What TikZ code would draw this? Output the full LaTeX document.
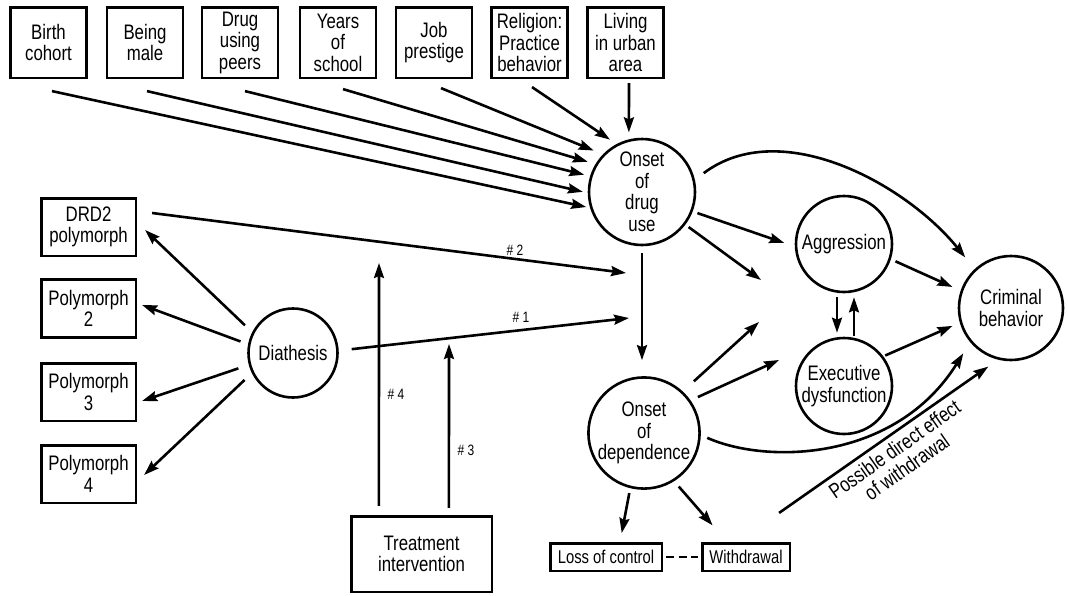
\documentclass[tikz,border=0pt]{standalone}
\usepackage{fontspec}
\setmainfont[FakeStretch=0.8]{Liberation Sans}
\usepackage{tikz}
\usetikzlibrary{arrows.meta,calc}

\begin{document}
\begin{tikzpicture}[x=1pt,y=-1pt,line width=2.6pt,
		font=\fontsize{21}{21.5}\selectfont,
		arr/.style={-{Stealth[length=15pt,width=10pt,inset=2pt]}},
		box/.style={draw,align=center,inner sep=0pt,minimum width=76pt,minimum height=70.6pt},
		pbox/.style={draw,align=center,inner sep=0pt,minimum width=94.6pt,minimum height=57.6pt},
		sbox/.style={draw,align=center,inner sep=0pt,minimum height=27.6pt,font=\fontsize{18.5}{19}\selectfont},
		circ/.style={draw,circle,align=center,inner sep=0pt},
		lab/.style={inner sep=0pt,font=\fontsize{15}{15}\selectfont}]
		\useasboundingbox (0,0) rectangle (1068,595);
		\node[box] (bc) at (48.5,42.5) {Birth\\cohort};
		\node[box] (bm) at (145,42.5) {Being\\male};
		\node[box] (dp) at (240,42.5) {Drug\\using\\peers};
		\node[box] (ys) at (338,42.5) {Years\\of\\school};
		\node[box] (jp) at (434,42.5) {Job\\prestige};
		\node[box] (rp) at (529.5,42.5) {Religion:\\Practice\\behavior};
		\node[box] (lu) at (625.5,42.5) {Living\\in urban\\area};
%
		\node[pbox] (drd) at (88.5,227) {DRD2\\polymorph};
		\node[pbox] (p2) at (88.5,308.5) {Polymorph\\2};
		\node[pbox] (p3) at (88.5,392) {Polymorph\\3};
		\node[pbox] (p4) at (88.5,474) {Polymorph\\4};
%
		\node[circ,minimum size=89pt] (di) at (293,353) {Diathesis};
		\node[circ,minimum size=106pt] (od) at (642,192) {Onset\\of\\drug\\use};
		\node[circ,minimum size=108pt] (dep) at (644,433) {Onset\\of\\dependence};
		\node[circ,minimum size=96pt] (ag) at (844,244) {Aggression};
		\node[circ,minimum size=96pt] (ex) at (844,386) {Executive\\dysfunction};
		\node[circ,minimum size=104pt] (cb) at (1011,308) {Criminal\\behavior};
%
		\node[draw,align=center,inner sep=0pt,minimum width=140.6pt,minimum height=75.6pt] (tr) at (421.5,554) {Treatment\\intervention};
		\node[sbox,minimum width=111.6pt] (loc) at (606,557) {Loss of control};
		\node[sbox,minimum width=87.6pt] (wd) at (746,557) {Withdrawal};
%
		\node[lab] (n2) at (515,250) {\# 2};
		\node[lab] (n1) at (521,317) {\# 1};
		\node[lab] (n4) at (396,394) {\# 4};
		\node[lab] (n3) at (466,450) {\# 3};
%
		\coordinate (t2) at (626,273);
		\coordinate (t1) at (629,318);
		\coordinate (t4) at (379,263);
		\coordinate (t3) at (449,344);
		\coordinate (m2) at (761,280);
		\coordinate (m3) at (759,322);
		\coordinate (m4) at (779,360);
%
		\path[arr]
			($(bc.south)+(3.5,12)$) edge[shorten >=4pt] (od.197)
			($(bm.south)+(2,12)$) edge[shorten >=5pt] (od.181)
			($(dp.south)+(5,12)$) edge[shorten >=6pt] (od.163)
			($(ys.south)+(5,10)$) edge[shorten >=8pt] (od.149)
			($(jp.south)+(7,9)$) edge[shorten >=10pt] (od.136)
			($(rp.south)+(2.5,8)$) edge[shorten >=8pt] (od.118)
			($(lu.south)+(3.5,4)$) edge[shorten >=7pt] (od.104);
%
		\draw[arr,shorten <=11pt,shorten >=15pt] (od.13) .. controls ($(od.13)+(37:107pt)$) and ($(cb.133)+(129:110pt)$) .. (cb.133);
		\draw[arr,shorten <=5pt,shorten >=11pt] (od.-21) -- (ag.183);
		\draw[arr,shorten <=4pt] (od.-37) -- (m2);
		\draw[arr,shorten <=7pt,shorten >=16pt] (od.south) -- (od.south |- dep.north);
%
		\draw[arr,shorten <=5pt,shorten >=9pt] (ag.-18) -- (cb.161);
		\draw[arr,shorten <=4pt,shorten >=4pt] ($(ag.south)+(-7,0)$) -- ($(ex.north)+(-7,0)$);
		\draw[arr,shorten <=1pt,shorten >=4pt] ($(ex.north)+(10,0)$) -- ($(ag.south)+(10,0)$);
		\draw[arr,shorten <=2pt,shorten >=8pt] (ex.37) -- (cb.196);
%
		\draw[arr,shorten <=15pt] (dep.47) -- (m3);
		\draw[arr,shorten <=8pt] (dep.35) -- (m4);
		\draw[arr,shorten <=7pt,shorten >=13pt] (dep.-2) .. controls ($(dep.-2)+(-24:72pt)$) and ($(cb.220)+(238:141pt)$) .. (cb.220);
		\draw[arr,shorten <=5pt,shorten >=9pt] (dep.-104) -- ($(loc.north)+(14,0)$);
		\draw[arr,shorten <=7pt,shorten >=22pt] (dep.-58) -- ($(wd.north)+(-19,0)$);
		\draw[dash pattern=on 8pt off 4.5pt,shorten <=3pt,shorten >=3pt] (loc.east) -- (wd.west);
		\draw[arr,shorten >=12pt] ($(wd.north east)+(-12,-29)$) -- node[sloped,below,pos=0.49,align=center,inner sep=5pt] (pd) {Possible direct effect\\of withdrawal} (cb.256);
%
		\path[arr]
			(di.153) edge[shorten <=10pt] ($(drd.east)+(8,3)$)
			(di.169) edge[shorten <=8pt] ($(p2.east)+(5,-3.5)$)
			(di.195) edge[shorten <=11pt] ($(p3.east)+(5,9)$)
			(di.206) edge[shorten <=10pt] ($(p4.east)+(7,1)$);
		\draw[arr] ($(drd.east)+(15,-14)$) -- (t2);
		\draw[arr,shorten <=13pt] (di.3) -- (t1);
		\draw[arr] ($(tr.north west)+(29,-9)$) -- (t4);
		\draw[arr] ($(tr.north west)+(99,-7)$) -- (t3);
\end{tikzpicture}
\end{document}
